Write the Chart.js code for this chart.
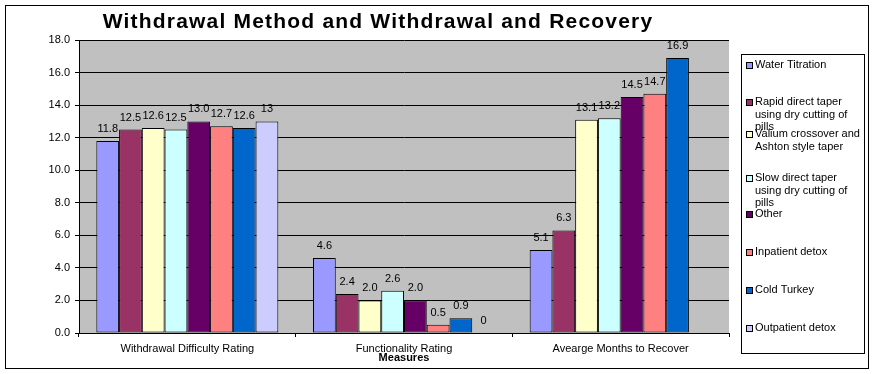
<!DOCTYPE html>
<html>
<head>
<meta charset="utf-8">
<title>Withdrawal Method and Withdrawal and Recovery</title>
<script src="https://cdn.jsdelivr.net/npm/chart.js@4.4.1/dist/chart.umd.min.js"></script>
<style>
  html, body { margin: 0; padding: 0; background: #fff; }
  canvas { display: block; }
</style>
</head>
<body>
<canvas id="grafico" width="874" height="374"></canvas>
<script>
// dados
const medidas = ['Withdrawal Difficulty Rating', 'Functionality Rating', 'Avearge Months to Recover'];
const metodos = [
  'Water Titration',
  'Rapid direct taper using dry cutting of pills',
  'Valium crossover and Ashton style taper',
  'Slow direct taper using dry cutting of pills',
  'Other',
  'Inpatient detox',
  'Cold Turkey',
  'Outpatient detox'
];

const waterTitration = [11.8, 4.6, 5.1];
const rapidTaper = [12.5, 2.4, 6.3];
const valiumCrossover = [12.6, 2.0, 13.1];
const slowTaper = [12.5, 2.6, 13.2];
const outro = [13.0, 2.0, 14.5];
const inpatient = [12.7, 0.5, 14.7];
const coldTurkey = [12.6, 0.9, 16.9];
const outpatient = [13, 0, null];

const casasDecimais = [1, 1, 1, 1, 1, 1, 1, 0];
const yMin = 0, yMax = 18, yPasso = 2;

const cores = ['#9999FF', '#993366', '#FFFFCC', '#CCFFFF', '#660066', '#FF8080', '#0066CC', '#CCCCFF'];
const series = [waterTitration, rapidTaper, valiumCrossover, slowTaper, outro, inpatient, coldTurkey, outpatient];

const fonte = '"Liberation Sans", Arial, sans-serif';
// posicao vertical (primeira linha) de cada item da legenda
const posLegenda = [65, 102, 134, 178, 214, 252, 290, 328];

function quebrarTexto(ctx, texto, largura) {
  const palavras = texto.split(' ');
  const linhas = [];
  let atual = '';
  palavras.forEach(p => {
    const teste = atual ? atual + ' ' + p : p;
    if (ctx.measureText(teste).width > largura && atual) {
      linhas.push(atual);
      atual = p;
    } else {
      atual = teste;
    }
  });
  if (atual) linhas.push(atual);
  return linhas;
}

const fundoPlugin = {
  id: 'fundo',
  beforeDraw(chart) {
    const { ctx, chartArea } = chart;
    ctx.save();
    ctx.fillStyle = '#fff';
    ctx.fillRect(0, 0, chart.width, chart.height);
    ctx.fillStyle = '#C0C0C0';
    ctx.fillRect(chartArea.left, chartArea.top, chartArea.right - chartArea.left, chartArea.bottom - chartArea.top);
    ctx.restore();
  }
};

const rotulosPlugin = {
  id: 'rotulos',
  afterDatasetsDraw(chart) {
    const ctx = chart.ctx;
    ctx.save();
    ctx.font = '11px ' + fonte;
    ctx.fillStyle = '#000';
    ctx.textAlign = 'center';
    ctx.textBaseline = 'middle';
    chart.data.datasets.forEach((ds, i) => {
      const meta = chart.getDatasetMeta(i);
      meta.data.forEach((barra, j) => {
        const v = ds.data[j];
        if (v === null || v === undefined) return;
        ctx.fillText(v.toFixed(casasDecimais[i]), barra.x, barra.y - 12);
      });
    });
    ctx.restore();
  }
};

const molduraPlugin = {
  id: 'moldura',
  afterDraw(chart) {
    const ctx = chart.ctx;
    ctx.save();
    ctx.strokeStyle = '#000';
    ctx.lineWidth = 1;
    ctx.strokeRect(5.5, 5.5, 863, 363);

    // titulo
    ctx.fillStyle = '#000';
    ctx.font = 'bold 21px ' + fonte;
    ctx.letterSpacing = '1.2px';
    ctx.textAlign = 'center';
    ctx.textBaseline = 'middle';
    ctx.fillText('Withdrawal Method and Withdrawal and Recovery', 378, 22);
    ctx.letterSpacing = '0px';

    // legenda
    ctx.fillStyle = '#fff';
    ctx.fillRect(741, 54, 123, 299);
    ctx.strokeRect(741.5, 54.5, 123, 299);
    ctx.font = '11px ' + fonte;
    ctx.textAlign = 'left';
    chart.data.datasets.forEach((ds, i) => {
      const y = posLegenda[i];
      const linhas = quebrarTexto(ctx, ds.label, 108);
      ctx.fillStyle = ds.backgroundColor;
      ctx.fillRect(746.5, Math.round(y) - 2.5, 6, 6);
      ctx.strokeRect(746.5, Math.round(y) - 2.5, 6, 6);
      ctx.fillStyle = '#000';
      linhas.forEach((l, k) => ctx.fillText(l, 755, y + k * 12.7));
    });
    ctx.restore();
  }
};

const ctxGrafico = document.getElementById('grafico').getContext('2d');
const grafico = new Chart(ctxGrafico, {
  type: 'bar',
  data: {
    labels: medidas,
    datasets: series.map((dados, i) => ({
      label: metodos[i],
      data: dados,
      backgroundColor: cores[i],
      borderColor: '#000',
      borderWidth: 1,
      borderSkipped: false,
      categoryPercentage: 0.84,
      barPercentage: 1
    }))
  },
  options: {
    responsive: false,
    animation: false,
    layout: { padding: { left: 0, right: 145, top: 40, bottom: 0 } },
    plugins: {
      legend: { display: false },
      title: { display: false },
      tooltip: { enabled: false }
    },
    scales: {
      x: {
        afterFit(scale) { scale.height = 41; },
        grid: {
          offset: true,
          drawOnChartArea: false,
          drawTicks: true,
          tickLength: 4,
          color: '#000'
        },
        border: { display: true, color: '#000' },
        ticks: {
          padding: 5,
          color: '#000',
          maxRotation: 0,
          font: { family: fonte, size: 11 }
        },
        title: {
          display: true,
          text: 'Measures',
          color: '#000',
          padding: { top: 0, bottom: 9 },
          font: { family: fonte, size: 11, weight: 'bold' }
        }
      },
      y: {
        min: yMin,
        max: yMax,
        afterFit(scale) { scale.width = 79; },
        grid: {
          color: '#000',
          drawTicks: true,
          tickLength: 4
        },
        border: { display: true, color: '#000' },
        ticks: {
          stepSize: yPasso,
          padding: 5,
          color: '#000',
          font: { family: fonte, size: 11 },
          callback: v => v.toFixed(1)
        }
      }
    }
  },
  plugins: [fundoPlugin, rotulosPlugin, molduraPlugin]
});
</script>
</body>
</html>
